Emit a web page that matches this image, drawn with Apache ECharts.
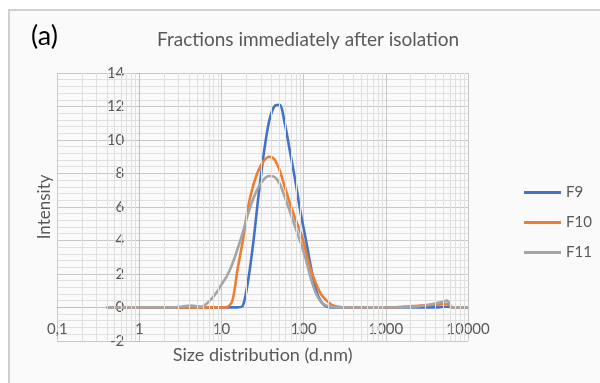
<!DOCTYPE html>
<html>
<head>
<meta charset="utf-8">
<script src="https://cdn.jsdelivr.net/npm/echarts@6/dist/echarts.min.js"></script>
<style>
html, body { margin: 0; padding: 0; background: #fff; }
#chart { width: 600px; height: 383px; }
</style>
</head>
<body>
<div id="chart"></div>
<script>
// size bins (d.nm)
var sizes = [0.4, 0.4632, 0.5365, 0.6213, 0.7195, 0.8332, 0.9649, 1.117, 1.294, 1.499,
  1.736, 2.01, 2.328, 2.696, 3.122, 3.615, 4.187, 4.849, 5.615, 6.503,
  7.531, 8.721, 10.1, 11.7, 13.54, 15.69, 18.17, 21.04, 24.36, 28.21,
  32.67, 37.84, 43.82, 50.75, 58.77, 68.06, 78.82, 91.28, 105.7, 122.4,
  141.8, 164.2, 190.1, 220.2, 255, 295.3, 342, 396.1, 458.7, 531.2,
  615.1, 712.4, 825, 955.4, 1106, 1281, 1484, 1718, 1990, 2305,
  2669, 3091, 3580, 4145, 4801, 5560, 6439, 7456, 8635, 10000];

var f9 = [0, 0, 0, 0, 0, 0, 0, 0, 0, 0,
  0, 0, 0, 0, 0, 0, 0, 0, 0, 0,
  0, 0, 0, 0, 0, 0, 0.1, 1.6, 3.9, 6.7,
  9.2, 11.1, 12.0, 12.1, 11.0, 9.3, 7.6, 5.7, 4.1, 2.4,
  1.0, 0.3, 0.05, 0, 0, 0, 0, 0, 0, 0,
  0, 0, 0, 0, 0, 0, 0, 0, 0, 0,
  0, 0, 0, 0, 0.02, 0.03, 0, 0, 0, 0];

var f10 = [0, 0, 0, 0, 0, 0, 0, 0, 0, 0,
  0, 0, 0, 0, 0, 0, 0, 0, 0, 0,
  0, 0, 0, 0.02, 0.4, 2.3, 4.0, 6.0, 7.3, 8.2,
  8.75, 9.0, 8.85, 8.2, 7.2, 6.2, 5.3, 4.5, 3.4, 2.2,
  1.4, 0.75, 0.4, 0.15, 0.05, 0, 0, 0, 0, 0,
  0, 0, 0, 0, 0, 0, 0.02, 0.04, 0.06, 0.08,
  0.1, 0.12, 0.14, 0.16, 0.18, 0.2, 0, 0, 0, 0];

var f11 = [0, 0, 0, 0, 0, 0, 0, 0, 0, 0,
  0, 0, 0, 0, 0.03, 0.08, 0.1, 0.08, 0.03, 0.2,
  0.5, 0.9, 1.4, 1.9, 2.6, 3.5, 4.5, 5.6, 6.5, 7.2,
  7.65, 7.85, 7.8, 7.4, 6.6, 5.7, 4.8, 3.9, 2.9, 1.7,
  0.8, 0.3, 0.1, 0.02, 0, 0, 0, 0, 0, 0,
  0, 0, 0, 0, 0, 0, 0, 0, 0.02, 0.05,
  0.08, 0.12, 0.18, 0.25, 0.32, 0.4, 0, 0, 0, 0];

var names = ['F9', 'F10', 'F11'];
var colors = ['#4472C4', '#ED7D31', '#A5A5A5'];
var values = [f9, f10, f11];

function pairs(vals) {
  return sizes.map(function (s, i) { return [s, vals[i]]; });
}

// minor log gridlines (2..9 in every decade)
var minorX = [];
for (var d = 0.1; d < 10000; d *= 10) {
  for (var k = 2; k <= 9; k++) minorX.push({ xAxis: +(d * k).toPrecision(4) });
}

var font = 'Lato';
var grey = '#595959';

var series = names.map(function (n, i) {
  return {
    name: n,
    type: 'line',
    data: pairs(values[i]),
    smooth: 0.3,
    showSymbol: false,
    symbol: 'none',
    lineStyle: { width: 2.6, color: colors[i] },
    itemStyle: { color: colors[i] },
    z: 3
  };
});
// holds the minor vertical gridlines
series.push({
  type: 'line',
  data: [],
  silent: true,
  z: 1,
  markLine: {
    silent: true,
    symbol: 'none',
    label: { show: false },
    lineStyle: { color: '#e0e0e0', type: 'solid', width: 1 },
    data: minorX
  }
});

var chart = echarts.init(document.getElementById('chart'));
chart.setOption({
  animation: false,
  backgroundColor: '#fff',
  textStyle: { fontFamily: font },
  graphic: [
    {
      type: 'rect', z: -10, silent: true,
      shape: { x: 9, y: 10, width: 640, height: 420 },
      style: { fill: '#fafafa', stroke: '#d0d0d0', lineWidth: 2 }
    },
    {
      type: 'text', left: 31, top: 23,
      style: { text: '(a)', font: '27px Lato', fill: '#000' }
    }
  ],
  title: {
    text: 'Fractions immediately after isolation',
    left: 152, top: 25,
    textStyle: { color: grey, fontSize: 19, fontWeight: 'normal', fontFamily: font }
  },
  legend: {
    orient: 'vertical',
    left: 519, top: 180,
    itemWidth: 37, itemHeight: 3, itemGap: 15,
    icon: 'rect',
    data: names,
    textStyle: { color: grey, fontSize: 15, fontFamily: font }
  },
  grid: { left: 57.3, right: 132, top: 73, bottom: 42.2, outerBoundsMode: 'none' },
  xAxis: {
    type: 'log', logBase: 10, min: 0.1, max: 10000,
    position: 'bottom',
    offset: -33.5,
    name: 'Size distribution (d.nm)',
    nameLocation: 'middle', nameGap: 39,
    nameTextStyle: { color: grey, fontSize: 18, fontFamily: font },
    axisLine: { onZero: false, lineStyle: { color: '#bfbfbf', width: 1 } },
    axisTick: { show: false },
    axisLabel: {
      color: grey, fontSize: 15, fontFamily: font, margin: 14,
      formatter: function (v) { return String(+v.toPrecision(6)).replace('.', ','); }
    },
    splitLine: { show: true, lineStyle: { color: '#c8c8c8', width: 1 } },
    minorTick: { show: false },
    minorSplitLine: { show: false }
  },
  yAxis: {
    type: 'value', min: -2, max: 14, interval: 2,
    offset: -82,
    name: 'Intensity',
    nameLocation: 'middle', nameGap: 86,
    nameTextStyle: { color: grey, fontSize: 17, fontFamily: font },
    axisLine: { show: true, onZero: false, lineStyle: { color: '#bfbfbf', width: 1 } },
    axisTick: { show: true, length: 5, lineStyle: { color: '#bfbfbf' } },
    axisLabel: { color: grey, fontSize: 15, fontFamily: font, margin: 15 },
    splitLine: { show: true, lineStyle: { color: '#c8c8c8', width: 1 } },
    minorTick: { show: false, splitNumber: 5 },
    minorSplitLine: { show: true, lineStyle: { color: '#e0e0e0', width: 1 } }
  },
  series: series
});
</script>
</body>
</html>
